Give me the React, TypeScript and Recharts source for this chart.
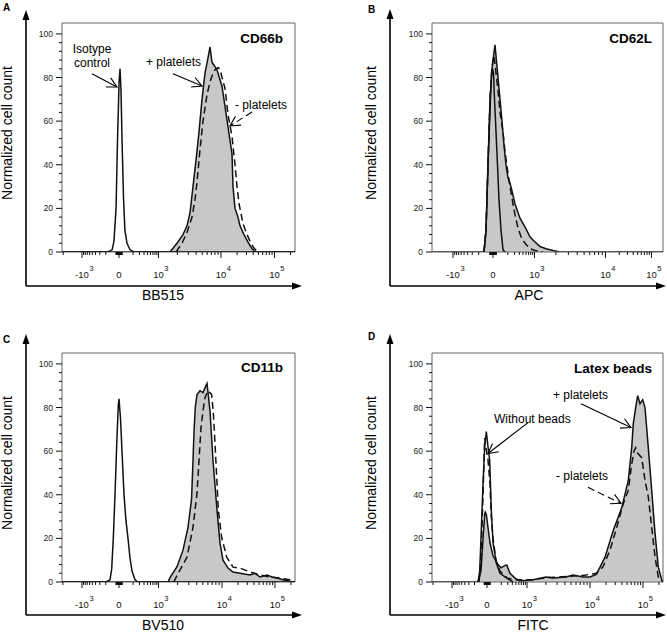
import React from "react";
import { ComposedChart, Area, Line, XAxis, YAxis, ReferenceLine, ReferenceArea } from "recharts";

const FONT = "'Liberation Sans', Arial, Helvetica, sans-serif";

type Pt = [number, number];

// ---------- axis ticks ----------
const yTicks = [0, 4, 8, 12, 16, 20, 24, 28, 32, 36, 40, 44, 48, 52, 56, 60, 64, 68, 72, 76, 80, 84, 88, 92, 96, 100];
const yMajor = [0, 20, 40, 60, 80, 100];
const xTickBase = ["-10", "0", "10", "10", "10"];
const xTickExp = ["3", "", "3", "4", "5"];

// positions (display channel 0-1000) of -10^3, 0, 10^3, 10^4, 10^5 for each panel
const aMajors = [85.8, 244.6, 414.2, 682.4, 912];
const bMajors = [90.9, 264, 443.7, 751, 950.2];
const cMajors = [85.8, 244.6, 414.2, 686.7, 914.2];
const dMajors = [86.6, 238, 411.3, 684, 913.4];

// ---------- Panel A: CD66b ----------
const aIsotype: Pt[] = [[0, 0], [197, 0], [215, 1], [223, 5], [232, 20], [238, 50], [245, 78], [249, 84], [253, 75], [258, 50], [264, 25], [270, 10], [279, 4], [292, 1], [309, 0], [1000, 0]];
const aPlus: Pt[] = [[0, 0], [463.5, 0], [493.6, 4], [519.3, 8], [536.5, 12], [549.4, 18], [562.2, 30], [575.1, 42], [588, 55], [600.9, 70], [613.7, 82], [626.6, 89], [635.2, 94], [643.8, 87], [665.2, 83.5], [686.7, 76], [708.2, 60.5], [729.6, 45], [733.9, 30], [742.5, 20], [755.4, 16], [764, 12], [781.1, 8], [798.3, 4.5], [815.5, 1.5], [832.6, 0], [1000, 0]];
const aMinus: Pt[] = [[489.3, 0], [515, 4], [536.5, 9], [558, 16], [570.8, 24], [579.4, 32], [592.3, 47], [605.2, 60], [613.7, 66], [622.3, 72], [635.2, 78], [648.1, 82], [656.7, 83.5], [669.5, 84.5], [678.1, 84], [686.7, 80], [699.6, 75], [712.5, 63], [729.6, 53], [742.5, 40], [751.1, 30], [760, 22], [776.8, 13], [794, 8], [806.9, 5], [822, 2], [841, 0]];

// ---------- Panel B: CD62L ----------
const bIsotype: Pt[] = [[225.1, 0], [233.8, 10], [242.4, 40], [251.1, 70], [257.6, 80], [262, 84], [266.3, 82], [270.6, 70], [277.1, 55], [283.5, 40], [290, 24], [298.7, 10], [307.4, 1], [316, 0]];
const bPlus: Pt[] = [[0, 0], [225.1, 0], [233.8, 10], [242.4, 40], [251.1, 65], [257.6, 82], [264.1, 88], [272.7, 95], [281.4, 85], [294.4, 70], [303, 60], [311.7, 49], [320.3, 40], [329, 34], [337.7, 31.5], [346.3, 28], [359.3, 22], [380.9, 15.5], [402.6, 11.5], [424.2, 7], [437, 5.5], [467.5, 2.5], [493.5, 1.5], [523.8, 0.7], [554.1, 0], [1000, 0]];
const bMinus: Pt[] = [[225.1, 0], [233.8, 10], [242.4, 40], [251.1, 70], [259.7, 85], [268.4, 90], [277.1, 82], [285.7, 74], [294.4, 64], [307.4, 55], [316, 46], [329, 36], [337.7, 30], [350.6, 22], [359.3, 17], [372.3, 11], [385.3, 7], [402.6, 4], [424.2, 1.5], [445.9, 0.7], [480, 0]];

// ---------- Panel C: CD11b ----------
const cIsotype: Pt[] = [[0, 0], [188.8, 0], [206, 1], [213.3, 6], [220.2, 20], [227.5, 40], [234.8, 63], [241.6, 81], [244.6, 84], [251.1, 75], [256.2, 63], [261.8, 50], [266.1, 40], [274.7, 28], [283.3, 20], [291.8, 11], [300.4, 5], [313.3, 1], [326.2, 0], [1000, 0]];
const cPlus: Pt[] = [[0, 0], [455, 0], [463.5, 2], [493.6, 7], [519.3, 14.6], [540.8, 25], [556, 38], [562, 55], [567, 70], [572, 80], [579.4, 86], [592.3, 87.7], [605.2, 86.8], [613.7, 89], [622.3, 91], [626.6, 87], [635.2, 78.5], [648.1, 55.7], [665.2, 33], [678.1, 17.8], [691, 10], [712.5, 6.4], [733.9, 4.6], [764, 4], [806.9, 3.2], [828.4, 4], [849.8, 2.3], [879.8, 3.2], [901.3, 2.3], [922.7, 1.8], [948.5, 1], [991.4, 0], [1000, 0]];
const cMinus: Pt[] = [[480, 0], [493.6, 3], [536.5, 11.4], [562.2, 25], [579.4, 40.6], [588, 55.7], [596.6, 70.8], [605.2, 78.5], [613.7, 84.5], [626.6, 87.7], [642, 86], [649, 78.5], [656.7, 63.5], [664, 48], [671, 33], [685, 20.5], [707, 11.4], [733.9, 6.8], [764, 6.4], [806.9, 4.6], [849.8, 3.2], [892.7, 2.3], [935.6, 1.8], [978.5, 1], [1000, 0]];

// ---------- Panel D: Latex beads ----------
const dWithout: Pt[] = [[199.1, 0], [206.5, 5], [212.1, 20], [220.8, 45], [228.1, 62], [235.1, 69], [242.4, 62], [249.8, 55.7], [256.7, 33], [264.1, 18], [278.4, 8.7], [294.4, 4], [323.4, 1.8], [350.6, 0]];
const dPlus: Pt[] = [[0, 0], [199.1, 0], [212.1, 5], [220.8, 20], [228.1, 31], [230.7, 32], [235.1, 31], [242.4, 25], [251.1, 18], [264.1, 12], [285.7, 8], [298.7, 6.5], [314.7, 7.5], [323.4, 7.8], [337.7, 4], [359.3, 1.8], [381, 0.5], [437.2, 1], [493.5, 2.3], [523.8, 1.8], [580.1, 2.3], [610.4, 3.2], [653.7, 2.3], [684, 2.3], [711.3, 3.5], [727.3, 6.8], [749, 11.4], [784.9, 23.7], [821.2, 34], [849.8, 46.6], [864.5, 61.6], [871.4, 72.6], [881.8, 80], [890.4, 85.4], [900.4, 81.7], [912.1, 83.6], [922.1, 80], [936.4, 61.6], [951.1, 42], [965.4, 22.4], [979.7, 6.8], [994.4, 1], [1000, 0]];
const dMinus: Pt[] = [[203.5, 0], [212.1, 10], [220.8, 40], [228.1, 66], [233, 62], [242.4, 56], [251.1, 45], [256.7, 30], [264.1, 20], [278.4, 9], [294.4, 5], [323.4, 2], [350.6, 1], [437.2, 1], [493.5, 2], [580.1, 2.5], [653.7, 3], [711.3, 4], [740.3, 7], [770.6, 14.6], [799.6, 25], [828.2, 36], [849.8, 42], [864.5, 54], [874.4, 60], [881.8, 61.6], [890.4, 59], [907.8, 57], [922.1, 46.6], [936.4, 39], [951.1, 25], [965.4, 11.6], [979.7, 2.3], [994.4, 1], [1000, 0]];

// ---------- helpers ----------
function mergeSeries(series: Record<string, Pt[]>) {
  const map = new Map<number, any>();
  for (const [key, pts] of Object.entries(series)) {
    for (const [x, y] of pts) {
      const row = map.get(x) ?? { x };
      row[key] = y;
      map.set(x, row);
    }
  }
  return Array.from(map.values()).sort((a, b) => a.x - b.x);
}

function buildXTicks(m: number[]): number[] {
  const [pn, p0, p3, p4, p5] = m;
  const out: number[] = [...m];
  const hp = 0.08 * (p3 - p0);
  const hn = 0.08 * (p0 - pn);
  for (let k = 1; k <= 9; k++) {
    out.push(p0 + (k / 10) * hp, p0 - (k / 10) * hn);
  }
  out.push(p0 + hp, p0 - hn);
  for (let k = 2; k <= 9; k++) {
    const l = Math.log10(k);
    out.push(p0 + hp + l * (p3 - p0 - hp));
    out.push(p0 - hn - l * (p0 - hn - pn));
    out.push(p3 + l * (p4 - p3));
    out.push(p4 + l * (p5 - p4));
    out.push(p5 + l * (p5 - p4));
    out.push(pn - l * (p4 - p3));
  }
  return Array.from(new Set(out.map((v) => Math.round(v * 1000) / 1000)))
    .filter((v) => v >= 0 && v <= 1000)
    .sort((a, b) => a - b);
}

const XTick = (props: any) => {
  const { x, y, payload, majors } = props;
  const idx = majors.findIndex((v: number) => Math.abs(v - payload.value) < 0.01);
  const major = idx >= 0;
  const base = major ? xTickBase[idx] : "";
  const half = base === "-10" ? 7 : base === "10" ? 5.3 : 2.7;
  return (
    <g>
      <line x1={x} x2={x} y1={y} y2={y + (major ? 6 : 3)} stroke="#111" strokeWidth={1} />
      {major && (
        <text x={x} y={y + 26} textAnchor="middle" fontSize={9.5} fill="#111" fontFamily={FONT}>
          {base}
        </text>
      )}
      {major && xTickExp[idx] !== "" && (
        <text x={x + half + 0.5} y={y + 18.5} textAnchor="start" fontSize={7.5} fill="#111" fontFamily={FONT}>
          {xTickExp[idx]}
        </text>
      )}
    </g>
  );
};

const YTick = (props: any) => {
  const { x, y, payload } = props;
  const v = payload.value;
  const major = yMajor.includes(v);
  return (
    <g>
      <line x1={x - (major ? 6 : 3)} x2={x} y1={y} y2={y} stroke="#111" strokeWidth={1} />
      {major && (
        <text x={x - 9} y={y + 3} textAnchor="end" fontSize={8.5} fill="#222" fontFamily={FONT}>
          {v}
        </text>
      )}
    </g>
  );
};

const makeArrow = (dashed: boolean) => (props: any) => {
  const { x1, y1, x2, y2 } = props;
  const ang = Math.atan2(y2 - y1, x2 - x1);
  const L = 11;
  const sp = (28 * Math.PI) / 180;
  const ax = x2 - L * Math.cos(ang - sp);
  const ay = y2 - L * Math.sin(ang - sp);
  const bx = x2 - L * Math.cos(ang + sp);
  const by = y2 - L * Math.sin(ang + sp);
  return (
    <g>
      <line x1={x1} y1={y1} x2={x2} y2={y2} stroke="#000" strokeWidth={1.1} strokeDasharray={dashed ? "7 4" : undefined} />
      <polyline points={`${ax},${ay} ${x2},${y2} ${bx},${by}`} fill="none" stroke="#000" strokeWidth={1.1} />
    </g>
  );
};

type SeriesDef = { key: string; pts: Pt[]; kind: "fill" | "solid" | "dashed" };
type ArrowDef = { from: Pt; to: Pt; dashed: boolean };
type PanelDef = {
  left: number;
  top: number;
  width: number;
  yAxisWidth: number;
  marginRight: number;
  majors: number[];
  series: SeriesDef[];
  arrows: ArrowDef[];
};

const panels: PanelDef[] = [
  {
    left: 0, top: 0, width: 333, yAxisWidth: 62, marginRight: 38, majors: aMajors,
    series: [
      { key: "plus", pts: aPlus, kind: "fill" },
      { key: "minus", pts: aMinus, kind: "dashed" },
      { key: "iso", pts: aIsotype, kind: "solid" },
    ],
    arrows: [
      { from: [128.8, 81.7], to: [236, 75.7], dashed: false },
      { from: [476.4, 81.7], to: [600.9, 76.1], dashed: false },
      { from: [815.5, 64.2], to: [721, 57.8], dashed: true },
    ],
  },
  {
    left: 333, top: 0, width: 334, yAxisWidth: 99, marginRight: 4, majors: bMajors,
    series: [
      { key: "plus", pts: bPlus, kind: "fill" },
      { key: "minus", pts: bMinus, kind: "dashed" },
      { key: "iso", pts: bIsotype, kind: "solid" },
    ],
    arrows: [],
  },
  {
    left: 0, top: 330, width: 333, yAxisWidth: 62, marginRight: 38, majors: cMajors,
    series: [
      { key: "plus", pts: cPlus, kind: "fill" },
      { key: "minus", pts: cMinus, kind: "dashed" },
      { key: "iso", pts: cIsotype, kind: "solid" },
    ],
    arrows: [],
  },
  {
    left: 333, top: 330, width: 334, yAxisWidth: 99, marginRight: 4, majors: dMajors,
    series: [
      { key: "plus", pts: dPlus, kind: "fill" },
      { key: "minus", pts: dMinus, kind: "dashed" },
      { key: "without", pts: dWithout, kind: "solid" },
    ],
    arrows: [
      { from: [645, 81.7], to: [861.5, 70.8], dashed: false },
      { from: [415.6, 73.1], to: [242.4, 58.9], dashed: false },
      { from: [675.3, 43.4], to: [818.2, 36.1], dashed: true },
    ],
  },
];

const Panel = ({ p }: { p: PanelDef }) => {
  const rec: Record<string, Pt[]> = {};
  p.series.forEach((s) => (rec[s.key] = s.pts));
  const data = mergeSeries(rec);
  const ticks = buildXTicks(p.majors);
  return (
    <div style={{ position: "absolute", left: p.left, top: p.top }}>
      <ComposedChart width={p.width} height={300} data={data} margin={{ top: 23, right: p.marginRight, bottom: 0, left: 0 }}>
        <XAxis
          dataKey="x"
          type="number"
          domain={[0, 1000]}
          allowDataOverflow
          ticks={ticks}
          interval={0}
          height={48}
          tickSize={0}
          tickMargin={0}
          tickLine={false}
          axisLine={false}
          tick={(tp: any) => <XTick {...tp} majors={p.majors} />}
        />
        <YAxis
          type="number"
          domain={[0, 105]}
          allowDataOverflow
          ticks={yTicks}
          interval={0}
          width={p.yAxisWidth}
          tickSize={0}
          tickMargin={0}
          tickLine={false}
          axisLine={false}
          tick={(tp: any) => <YTick {...tp} />}
        />
        {p.series.map((s) =>
          s.kind === "fill" ? (
            <Area
              key={s.key}
              dataKey={s.key}
              type="linear"
              fill="#c8c8c8"
              fillOpacity={1}
              stroke="#111"
              strokeWidth={1.5}
              connectNulls
              dot={false}
              activeDot={false}
              isAnimationActive={false}
            />
          ) : (
            <Line
              key={s.key}
              dataKey={s.key}
              type="linear"
              stroke="#111"
              strokeWidth={1.5}
              strokeDasharray={s.kind === "dashed" ? "7 4" : undefined}
              connectNulls
              dot={false}
              activeDot={false}
              isAnimationActive={false}
            />
          )
        )}
        <ReferenceArea x1={0} x2={1000} y1={0} y2={105} fill="none" stroke="#666" strokeWidth={1} ifOverflow="visible" />
        {p.arrows.map((a, i) => (
          <ReferenceLine
            key={i}
            segment={[{ x: a.from[0], y: a.from[1] }, { x: a.to[0], y: a.to[1] }]}
            ifOverflow="visible"
            shape={makeArrow(a.dashed)}
          />
        ))}
      </ComposedChart>
    </div>
  );
};

const AxisArrows = ({ vx, topY, hy, rightX }: { vx: number; topY: number; hy: number; rightX: number }) => (
  <g>
    <line x1={vx} y1={hy} x2={vx} y2={topY + 8} stroke="#000" strokeWidth={1.6} />
    <polygon points={`${vx},${topY} ${vx - 3.5},${topY + 10} ${vx + 3.5},${topY + 10}`} fill="#000" />
    <line x1={vx} y1={hy} x2={rightX - 8} y2={hy} stroke="#000" strokeWidth={1.6} />
    <polygon points={`${rightX},${hy} ${rightX - 10},${hy - 3.5} ${rightX - 10},${hy + 3.5}`} fill="#000" />
  </g>
);

const txt = { fontFamily: FONT, fill: "#000" } as const;

export default function App() {
  return (
    <div style={{ position: "absolute", left: 0, top: 0, width: 667, height: 632, background: "#fff", overflow: "hidden" }}>
      {panels.map((p, i) => (
        <Panel key={i} p={p} />
      ))}
      <svg width={667} height={632} style={{ position: "absolute", left: 0, top: 0, pointerEvents: "none" }}>
        <AxisArrows vx={26} topY={10} hy={286} rightX={302} />
        <AxisArrows vx={390} topY={9} hy={286} rightX={666} />
        <AxisArrows vx={26} topY={334} hy={615} rightX={302} />
        <AxisArrows vx={390} topY={334} hy={615} rightX={666} />

        <text x={3} y={11} fontSize={10} fontWeight="bold" {...txt}>A</text>
        <text x={368} y={13} fontSize={10} fontWeight="bold" {...txt}>B</text>
        <text x={3} y={343} fontSize={10} fontWeight="bold" {...txt}>C</text>
        <text x={368} y={340} fontSize={10} fontWeight="bold" {...txt}>D</text>

        <text transform="translate(12,133) rotate(-90)" textAnchor="middle" fontSize={14} {...txt}>Normalized cell count</text>
        <text transform="translate(376,133) rotate(-90)" textAnchor="middle" fontSize={14} {...txt}>Normalized cell count</text>
        <text transform="translate(12,463) rotate(-90)" textAnchor="middle" fontSize={14} {...txt}>Normalized cell count</text>
        <text transform="translate(376,463) rotate(-90)" textAnchor="middle" fontSize={14} {...txt}>Normalized cell count</text>

        <text x={163} y={300} textAnchor="middle" fontSize={14} {...txt}>BB515</text>
        <text x={529} y={300} textAnchor="middle" fontSize={14} {...txt}>APC</text>
        <text x={163} y={630} textAnchor="middle" fontSize={14} {...txt}>BV510</text>
        <text x={533} y={630} textAnchor="middle" fontSize={14} {...txt}>FITC</text>

        <text x={283} y={43} textAnchor="end" fontSize={13.5} fontWeight="bold" {...txt}>CD66b</text>
        <text x={652} y={43} textAnchor="end" fontSize={13.5} fontWeight="bold" {...txt}>CD62L</text>
        <text x={283} y={372} textAnchor="end" fontSize={13.5} fontWeight="bold" {...txt}>CD11b</text>
        <text x={652} y={373} textAnchor="end" fontSize={13.5} fontWeight="bold" {...txt}>Latex beads</text>

        <text x={92} y={53} textAnchor="middle" fontSize={12} {...txt}>Isotype</text>
        <text x={92} y={67} textAnchor="middle" fontSize={12} {...txt}>control</text>
        <text x={146} y={66} fontSize={12} {...txt}>+ platelets</text>
        <text x={235} y={109} fontSize={12} {...txt}>- platelets</text>

        <text x={553} y={399} fontSize={12} {...txt}>+ platelets</text>
        <text x={494} y={423} fontSize={12} {...txt}>Without beads</text>
        <text x={556} y={480} fontSize={12} {...txt}>- platelets</text>
      </svg>
    </div>
  );
}
